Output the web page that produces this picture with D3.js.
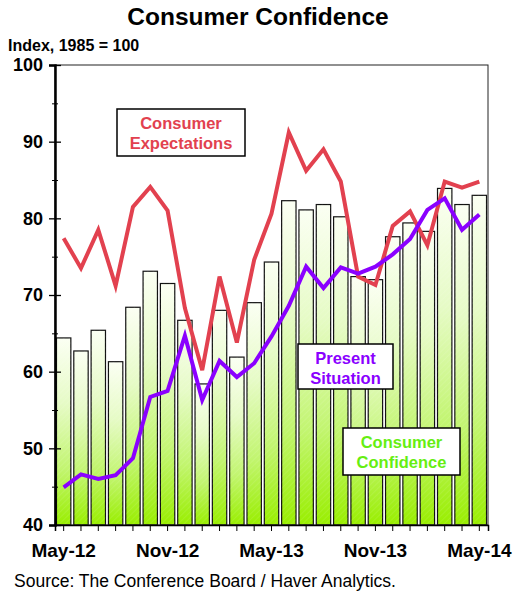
<!DOCTYPE html>
<html><head><meta charset="utf-8">
<script src="https://cdn.jsdelivr.net/npm/d3@7"></script>
<style>body{margin:0;background:#fff}svg{display:block}text{font-family:Arial,"Liberation Sans",sans-serif}</style>
</head><body><svg id="c" width="513" height="596"></svg>
<script>
const months = ["May-12","Jun-12","Jul-12","Aug-12","Sep-12","Oct-12","Nov-12","Dec-12","Jan-13","Feb-13","Mar-13","Apr-13","May-13","Jun-13","Jul-13","Aug-13","Sep-13","Oct-13","Nov-13","Dec-13","Jan-14","Feb-14","Mar-14","Apr-14","May-14"];
const confidence = [64.4,62.7,65.4,61.3,68.4,73.1,71.5,66.7,58.4,68.0,61.9,69.0,74.3,82.3,81.1,81.8,80.2,72.4,72.0,77.6,79.4,78.3,83.9,81.8,83.0];
const expectations = [77.4,73.5,78.5,71.2,81.5,84.1,81.0,68.3,60.2,72.4,63.8,74.6,80.6,91.2,86.2,89.0,84.8,72.4,71.3,79.0,80.9,76.5,84.8,84.0,84.8];
const present = [44.9,46.6,46.0,46.5,48.7,56.7,57.5,64.7,56.3,61.4,59.3,61.1,64.6,68.6,73.7,70.9,73.6,72.8,73.7,75.3,77.3,81.1,82.6,78.5,80.5];
const yTicks = [40,50,60,70,80,90,100];
const xLabels = ["May-12","Nov-12","May-13","Nov-13","May-14"];

const svg = d3.select("#c");
const L=55, R=488, T=65, B=525;
const x = d3.scaleBand().domain(months).range([L,R]).paddingInner(0.17).paddingOuter(0.085);
const y = d3.scaleLinear().domain([40,100]).range([B,T]);
const cx = d => x(d)+x.bandwidth()/2;

const defs = svg.append("defs");
const g = defs.append("linearGradient").attr("id","barg").attr("x1",0).attr("y1",0).attr("x2",0).attr("y2",1);
g.append("stop").attr("offset","0%").attr("stop-color","#fbfff3");
g.append("stop").attr("offset","35%").attr("stop-color","#e6fbc6");
g.append("stop").attr("offset","70%").attr("stop-color","#c2f570");
g.append("stop").attr("offset","100%").attr("stop-color","#99ee00");
const pat = defs.append("pattern").attr("id","hatch").attr("width",4).attr("height",4)
  .attr("patternUnits","userSpaceOnUse").attr("patternTransform","rotate(45)");
pat.append("line").attr("x1",0).attr("y1",0).attr("x2",0).attr("y2",4).attr("stroke","#ffffff").attr("stroke-opacity",0.18).attr("stroke-width",1);

// title
svg.append("text").attr("x",258).attr("y",25).attr("text-anchor","middle").attr("font-size",24.5).attr("font-weight","bold").text("Consumer Confidence");
svg.append("text").attr("x",8).attr("y",51).attr("font-size",16).attr("font-weight","bold").text("Index, 1985 = 100");

// bars
const bars = svg.append("g");
bars.selectAll("rect.b").data(months).join("rect").attr("class","b")
  .attr("x",d=>x(d)).attr("width",x.bandwidth())
  .attr("y",(d,i)=>y(confidence[i])).attr("height",(d,i)=>B-y(confidence[i]))
  .attr("fill","url(#barg)").attr("stroke","#111").attr("stroke-width",1.2);
bars.selectAll("rect.h").data(months).join("rect").attr("class","h")
  .attr("x",d=>x(d)).attr("width",x.bandwidth())
  .attr("y",(d,i)=>y(confidence[i])).attr("height",(d,i)=>B-y(confidence[i]))
  .attr("fill","url(#hatch)");

// frame
svg.append("rect").attr("x",L).attr("y",T).attr("width",R-L).attr("height",B-T).attr("fill","none").attr("stroke","#222").attr("stroke-width",1);

// y axis
const ya = svg.append("g").attr("transform",`translate(${L},0)`)
  .call(d3.axisLeft(y).tickValues(yTicks).tickSize(6).tickFormat(d3.format("d")));
ya.select(".domain").attr("stroke","#000").attr("stroke-width",2.5);
ya.selectAll(".tick line").attr("x1",6).attr("x2",-6).attr("stroke","#000").attr("stroke-width",1.3);
ya.selectAll(".tick text").attr("x",-12).attr("font-size",18).attr("font-weight","bold").attr("fill","#000").attr("font-family","Arial, 'Liberation Sans', sans-serif");
const ym = svg.append("g").attr("transform",`translate(${L},0)`)
  .call(d3.axisLeft(y).tickValues([45,55,65,75,85,95]).tickSize(3).tickFormat(""));
ym.select(".domain").remove();
ym.selectAll(".tick line").attr("x1",3).attr("x2",-3).attr("stroke","#000");

// x axis
const xa = svg.append("g").attr("transform",`translate(0,${B})`)
  .call(d3.axisBottom(x).tickSize(6).tickFormat(d=>xLabels.includes(d)?d:""));
xa.select(".domain").attr("stroke","#000").attr("stroke-width",1.5);
xa.selectAll(".tick line").attr("stroke","#000");
xa.selectAll(".tick text").attr("y",19).attr("font-size",19).attr("font-weight","bold").attr("fill","#000").attr("font-family","Arial, 'Liberation Sans', sans-serif");

// lines
const line = d3.line().x((d,i)=>cx(months[i])).y(d=>y(d));
svg.append("path").datum(expectations).attr("d",line).attr("fill","none").attr("stroke","#e2414f").attr("stroke-width",4).attr("stroke-linejoin","miter");
svg.append("path").datum(present).attr("d",line).attr("fill","none").attr("stroke","#8a00ff").attr("stroke-width",4).attr("stroke-linejoin","miter");

// label boxes
function box(x0,y0,w,h,lines,color){
  svg.append("rect").attr("x",x0).attr("y",y0).attr("width",w).attr("height",h).attr("fill","#fff").attr("stroke","#000").attr("stroke-width",1.5);
  lines.forEach((t,i)=>svg.append("text").attr("x",x0+w/2).attr("y",y0+20+i*19.5).attr("text-anchor","middle")
    .attr("font-size",16.5).attr("font-weight","bold").attr("fill",color).text(t));
}
box(117,109,128,47,["Consumer","Expectations"],"#e2414f");
box(298,344,95,45,["Present","Situation"],"#8a00ff");
box(343,428,117,47,["Consumer","Confidence"],"#66ee11");

svg.append("text").attr("x",14).attr("y",587).attr("font-size",17.5).attr("fill","#000").text("Source: The Conference Board / Haver Analytics.");
</script></body></html>
